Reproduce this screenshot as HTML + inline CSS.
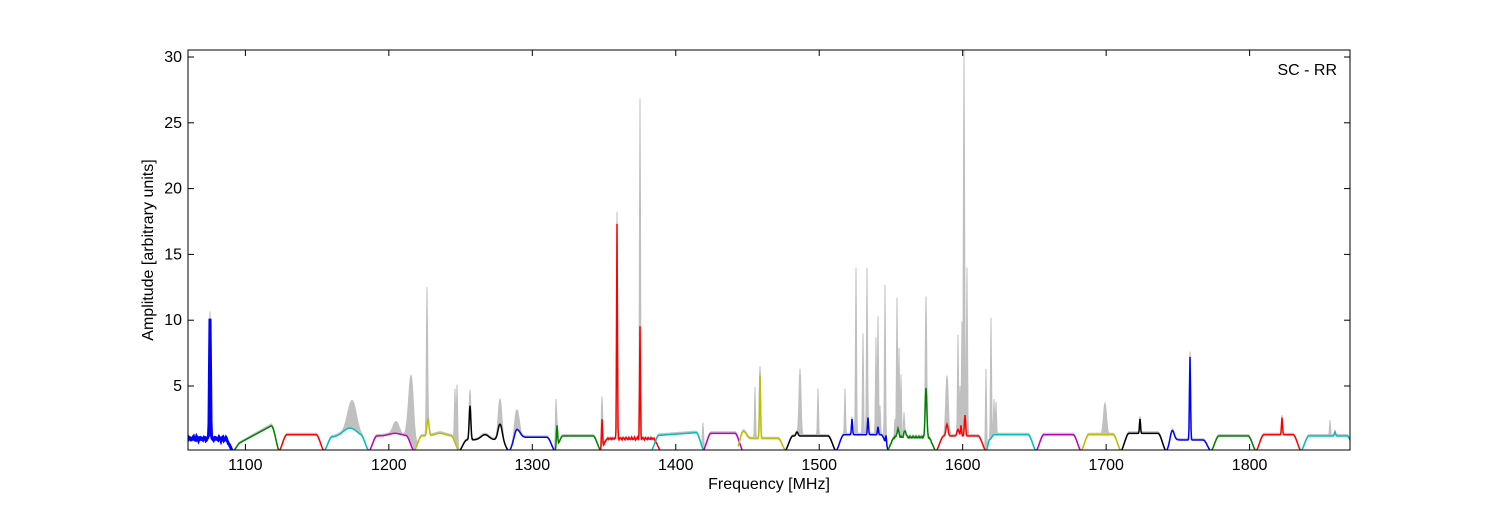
<!DOCTYPE html>
<html><head><meta charset="utf-8"><style>
html,body{margin:0;padding:0;background:#fff;}
svg text{font-family:"Liberation Sans","DejaVu Sans",sans-serif;font-size:16px;fill:#000;}
</style></head><body>
<svg id="s" width="1500" height="500" xmlns="http://www.w3.org/2000/svg">
<defs><clipPath id="cp"><rect x="188" y="50" width="1162" height="400"/></clipPath></defs>
<rect width="1500" height="500" fill="#fff"/>
<g id="plot" clip-path="url(#cp)"></g>
<rect x="188" y="50" width="1162" height="400" fill="none" stroke="#000" stroke-width="1"/>
<g id="ticks" stroke="#000" stroke-width="1"></g>
<g id="labels"></g>
<text x="1337" y="75" text-anchor="end">SC - RR</text>
<text x="769" y="489" text-anchor="middle">Frequency [MHz]</text>
<text transform="translate(153,250) rotate(-90)" text-anchor="middle">Amplitude [arbitrary units]</text>
</svg>
<script>
const Y=v=>451.8-13.16*v;
const X=f=>188+(f-1060)*1.4346;
const ns="http://www.w3.org/2000/svg";
const plot=document.getElementById('plot'),tk=document.getElementById('ticks'),lb=document.getElementById('labels');
function el(t,a,p){const e=document.createElementNS(ns,t);for(const k in a)e.setAttribute(k,a[k]);p.appendChild(e);return e;}
const C={b:'#0000ff',g:'#008000',r:'#ff0000',c:'#00bfbf',m:'#bf00bf',y:'#bfbf00',k:'#000000'};
function g(x,c,h,w){return h*Math.exp(-((x-c)*(x-c))/(2*w*w));}
const segs=[
[180,234,'b',x=>1.0+0.1*Math.sin(x*1.7),[[210,9.2,0.5]],1],
[231,280,'g',x=>0.4+1.6*Math.max(0,(x-233)/(272-233)),[[217,0.5,1]]],
[278,325,'r',x=>1.3,[]],
[323,370,'c',x=>1.1+g(x,350,0.7,7),[]],
[368,415,'m',x=>1.2+g(x,395,0.2,6),[]],
[413,460,'y',x=>1.2+g(x,440,0.2,5),[[428,1.3,1]]],
[458,510,'k',x=>0.9+g(x,485,0.4,4),[[470,2.6,0.8],[500,1.2,2]]],
[508,556,'b',x=>1.1+g(x,517,0.6,3),[]],
[554,602,'g',x=>1.2,[[557,1.7,0.6]]],
[599,662,'r',x=>1.0+0.05*Math.sin(x*2.3),[[602,2.2,0.5],[617,16.3,0.4],[640,8.5,0.4]],1],
[650,705,'c',x=>1.2+0.3*(x-650)/55,[]],
[702,744,'m',x=>1.4,[]],
[738,787,'y',x=>1.0,[[742,1.0,3],[760,4.8,0.5]]],
[784,837,'k',x=>1.2,[[797,0.3,1]]],
[835,890,'b',x=>1.3,[[852,1.2,0.5],[868,1.3,0.5],[878,0.6,0.5],[886,0.7,0.5]]],
[886,937,'g',x=>1.1,[[926,3.8,0.8],[898,0.6,1],[905,0.5,1]],1],
[935,987,'r',x=>1.2,[[947,0.9,1],[958,0.5,1],[965,1.6,0.6],[961,0.8,0.5]]],
[985,1037,'c',x=>1.3,[[989,0.3,1]]],
[1035,1082,'m',x=>1.3,[]],
[1080,1122,'y',x=>1.3,[]],
[1120,1167,'k',x=>1.4,[[1140,1.1,0.5]]],
[1165,1212,'b',x=>0.9,[[1190,6.3,0.5],[1172,0.8,2]]],
[1210,1257,'g',x=>1.2,[]],
[1255,1302,'r',x=>1.3,[[1282,1.3,0.5]]],
[1300,1356,'c',x=>1.2,[[1335,0.3,0.6]]],
];
const gp=[[210,10.3,0.6],[427,12.5,0.6],[411,5.8,2.5],[352,3.9,4],[396,2.3,3],[455,4.8,0.6],[457,5.1,0.6],[470,4.7,0.6],[500,4.0,1.5],[517,3.2,2],[556,4.0,0.6],[602,4.2,0.6],[617,17.4,0.5],[640,26.8,0.5],[703,2.2,0.6],[755,4.9,0.5],[760,6.5,0.6],[800,6.3,1],[818,4.8,0.5],[845,4.8,0.5],[856,14,0.5],[863,9,0.5],[867,14,0.5],[876,8.7,0.5],[878,10.3,0.5],[880,3.5,0.5],[885,12.7,0.5],[895,2.5,0.5],[897,11.7,0.5],[899,7.9,0.5],[901,5.9,0.5],[904,3.0,0.5],[926,11.8,0.6],[947,5.8,1.2],[958,8.9,0.5],[960,5,0.5],[962,9.9,0.5],[964,30.5,0.6],[967,14,0.5],[986,6.3,0.5],[991,10.2,0.5],[994,4,0.5],[996,3.8,0.5],[1105,3.7,1.5],[1140,2.7,0.5],[1190,7.6,0.6],[1330,2.4,0.5]];
function segVal(s,x){const [a,b,,f,sp,noisy]=s;let d=Math.min(x-a,b-x);let e=d<0?0:Math.min(1,d/9);e=e*e*(3-2*e);let v=f(x)*e;for(const p of sp)v+=g(x,p[0],p[1],p[2]);if(noisy)v+=0.08*e*Math.sin(x*7.3)*Math.cos(x*3.1);return Math.max(0,v);}
let gpts=[];
for(let x=188;x<=1350;x+=0.5){let v=0;for(const s of segs)if(x>=s[0]&&x<=s[1])v=Math.max(v,segVal(s,x));let q=v*1.05+0.05;for(const p of gp)q=Math.max(q,v+g(x,p[0],Math.max(0,p[1]-v),p[2]));gpts.push([x,q]);}
let d='M188,452 '+gpts.map(p=>'L'+p[0]+','+Y(p[1]).toFixed(1)).join(' ')+' L1350,452 Z';
el('path',{d:d,fill:'#c0c0c0',stroke:'#c0c0c0','stroke-width':1},plot);
const lines=[];
for(const s of segs){let pts=[];for(let x=s[0];x<=s[1];x+=0.5)pts.push(x+','+Y(segVal(s,x)).toFixed(1));lines.push(pts);}
for(const pts of lines){el('polygon',{points:pts.join(' ')+' '+pts[pts.length-1].split(',')[0]+',460 '+pts[0].split(',')[0]+',460',fill:'#fff',stroke:'none'},plot);}
segs.forEach((s,i)=>{el('polyline',{points:lines[i].join(' '),fill:'none',stroke:C[s[2]],'stroke-width':i==0?3:1.5},plot);});
for(let f=1100;f<=1800;f+=100){const x=X(f);el('line',{x1:x,y1:450,x2:x,y2:444},tk);el('line',{x1:x,y1:50,x2:x,y2:56},tk);
const t=el('text',{x:x,y:470,'text-anchor':'middle'},lb);t.textContent=f;}
for(let v=5;v<=30;v+=5){const y=Y(v);el('line',{x1:188,y1:y,x2:194,y2:y},tk);el('line',{x1:1350,y1:y,x2:1344,y2:y},tk);
const t=el('text',{x:182,y:y+5,'text-anchor':'end'},lb);t.textContent=v;}
</script>
</body></html>
